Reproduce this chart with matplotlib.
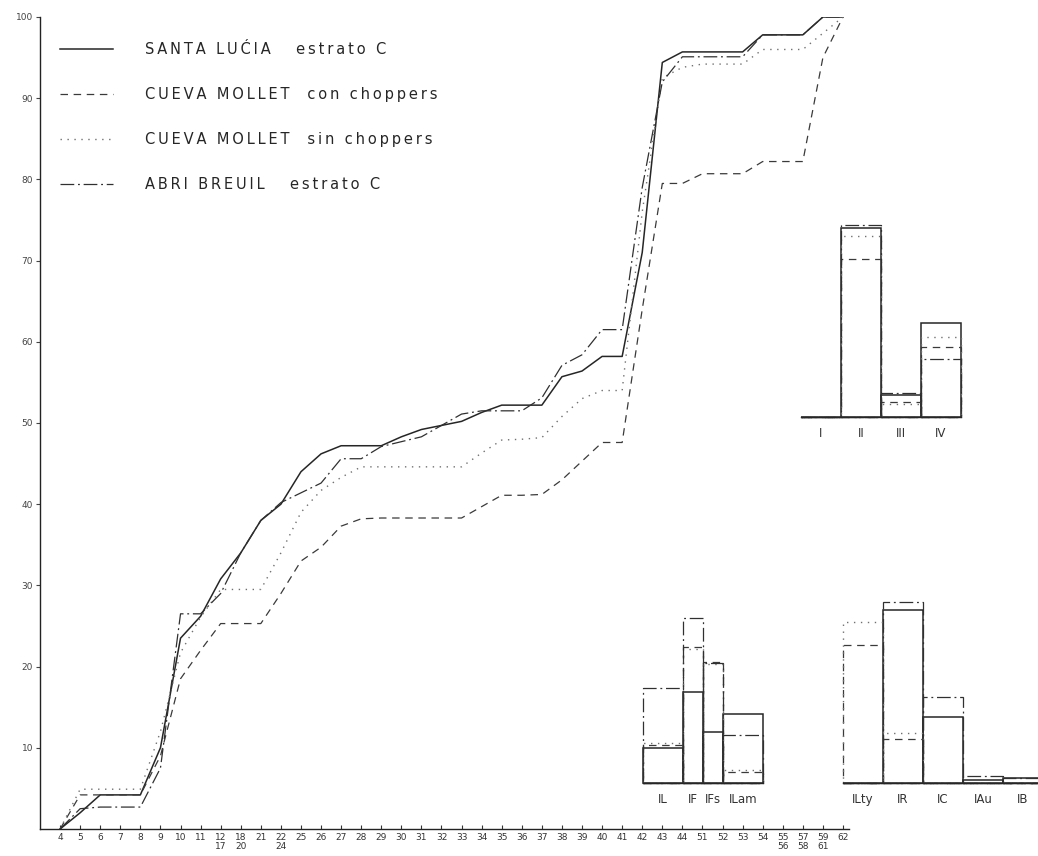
import numpy as np
import matplotlib
matplotlib.use("Agg")
import matplotlib.pyplot as plt

# cumulative curve, 40 type positions along the x axis
x_labels = ['4', '5', '6', '7', '8', '9', '10', '11', '12\n17', '18\n20', '21', '22\n24',
            '25', '26', '27', '28', '29', '30', '31', '32', '33', '34', '35', '36', '37',
            '38', '39', '40', '41', '42', '43', '44', '51', '52', '53', '54',
            '55\n56', '57\n58', '59\n61', '62']

santa_lucia = [0, 2, 4.2, 4.2, 4.2, 10, 23.5, 26.2, 30.8, 34, 38, 40, 44, 46.2, 47.2, 47.2,
               47.2, 48.3, 49.2, 49.7, 50.2, 51.3, 52.2, 52.2, 52.2, 55.7, 56.4, 58.2, 58.2,
               71, 94.4, 95.7, 95.7, 95.7, 95.7, 97.8, 97.8, 97.8, 100, 100]
mollet_con = [0, 4.2, 4.2, 4.2, 4.2, 9, 18.5, 22, 25.3, 25.3, 25.3, 29, 33, 34.7, 37.3, 38.2,
              38.3, 38.3, 38.3, 38.3, 38.3, 39.7, 41.1, 41.1, 41.2, 43, 45.3, 47.6, 47.6,
              64, 79.5, 79.5, 80.7, 80.7, 80.7, 82.2, 82.2, 82.2, 95, 100]
mollet_sin = [0, 4.9, 4.9, 4.9, 4.9, 12, 21.7, 26.1, 29.5, 29.5, 29.5, 34, 39, 41.7, 43.3, 44.6,
              44.6, 44.6, 44.6, 44.6, 44.6, 46.3, 47.9, 48, 48.2, 50.8, 53, 54, 54,
              76, 92.5, 93.8, 94.2, 94.2, 94.2, 96, 96, 96, 98, 100]
abri_breuil = [0, 2.5, 2.7, 2.7, 2.7, 7.5, 26.5, 26.5, 29, 34, 38, 40.2, 41.4, 42.6, 45.6, 45.6,
               47.1, 47.7, 48.3, 49.7, 51.1, 51.5, 51.5, 51.5, 53.1, 57.1, 58.4, 61.5, 61.5,
               79, 92, 95.1, 95.1, 95.1, 95.1, 97.8, 97.8, 97.8, 100, 100]

series_names = ['SANTA LUĆIA   estrato C',
                'CUEVA MOLLET  con choppers',
                'CUEVA MOLLET  sin choppers',
                'ABRI BREUIL   estrato C']

# group histograms (same vertical scale as the curve, measured from each baseline)
grp_a = ['I', 'II', 'III', 'IV']
grp_a_vals = [[0, 23.3, 2.7, 11.6],
              [0, 19.5, 1.8, 8.6],
              [0, 22.3, 1.6, 9.9],
              [0, 23.6, 2.9, 7.1]]

grp_b = ['IL', 'IF', 'IFs', 'ILam']
grp_b_width = [1, 0.5, 0.5, 1]
grp_b_vals = [[4.3, 11.2, 6.3, 8.5],
              [4.7, 16.7, 14.9, 1.4],
              [4.9, 16.5, 14.7, 1.6],
              [11.7, 20.3, 14.8, 5.9]]

grp_c = ['ILty', 'IR', 'IC', 'IAu', 'IB']
grp_c_vals = [[0, 21.3, 8.1, 0.4, 0.6],
              [17.0, 5.4, 0, 0, 0],
              [19.8, 6.2, 0, 0, 0],
              [0, 22.3, 10.6, 0.9, 0.6]]

styles = [dict(ls='-', color='#262626', lw=1.1),
          dict(ls=(0, (6, 4.5)), color='#3a3a3a', lw=0.9),
          dict(ls=(0, (1, 4)), color='#707070', lw=1.0),
          dict(ls=(0, (11, 3, 1.5, 3)), color='#303030', lw=0.9)]


def spaced(s):
    # wide letter spacing like the lettering stencil of the original
    return '\u2009'.join(s)


plt.rcParams['font.family'] = ['DejaVu Sans']
W, H = 1038, 856
fig = plt.figure(figsize=(W / 100, H / 100), dpi=100)


def px_axes(left, bottom_y, width, height):
    return fig.add_axes([left / W, (H - bottom_y) / H, width / W, height / H])


ax = px_axes(40, 829, 809, 812)
pos = np.arange(len(x_labels))
for vals, name, st in zip([santa_lucia, mollet_con, mollet_sin, abri_breuil], series_names, styles):
    ax.plot(pos, vals, label=spaced(name), **st)

ax.set_xlim(-1, 39.3)
ax.set_ylim(0, 100)
for s in ['top', 'right']:
    ax.spines[s].set_visible(False)
for s in ['left', 'bottom']:
    ax.spines[s].set_color('#222222')
    ax.spines[s].set_linewidth(1.0)
ax.set_xticks(pos)
ax.set_xticklabels(x_labels, fontsize=6.5, color='#333333', linespacing=1.0, va='top')
ax.tick_params(axis='x', direction='in', length=3, width=0.8, pad=3, colors='#333333')
ax.set_yticks(range(10, 101, 10))
ax.set_yticklabels([str(v) for v in range(10, 101, 10)], fontsize=6.5, color='#444444')
ax.tick_params(axis='y', direction='out', length=3, width=0.8, pad=2, colors='#444444')

leg = ax.legend(loc='upper left', bbox_to_anchor=(60 / W, 1 - 42 / H), bbox_transform=fig.transFigure,
                frameon=False, handlelength=3.6, handletextpad=2.2, labelspacing=2.05,
                fontsize=10.5, borderpad=0, borderaxespad=0)
for t in leg.get_texts():
    t.set_color('#262626')


def group_axes(left, bottom_y, n_units, cats, vals, widths=None):
    g = px_axes(left, bottom_y, n_units * 40, 25 * 8.12)
    if widths is None:
        widths = [1] * len(cats)
    edges = np.concatenate([[0], np.cumsum(widths)[:-1]])
    for v, st in zip(vals, styles):
        g.bar(edges, v, width=widths, align='edge', fill=False, edgecolor=st['color'],
              linestyle=st['ls'], linewidth=st['lw'], clip_on=False)
    g.set_xlim(0, n_units)
    g.set_ylim(0, 25)
    g.patch.set_visible(False)
    for s in ['top', 'right', 'left']:
        g.spines[s].set_visible(False)
    g.spines['bottom'].set_color('#262626')
    g.spines['bottom'].set_linewidth(1.0)
    g.set_yticks([])
    g.set_xticks(edges + np.array(widths) / 2)
    g.set_xticklabels(cats, fontsize=8.5, color='#333333')
    g.tick_params(axis='x', length=0, pad=7)
    return g


group_axes(801, 417, 4, grp_a, grp_a_vals)
group_axes(643, 783, 3, grp_b, grp_b_vals, grp_b_width)
group_axes(843, 783, 5, grp_c, grp_c_vals)

fig.savefig('out.png', dpi=100)
